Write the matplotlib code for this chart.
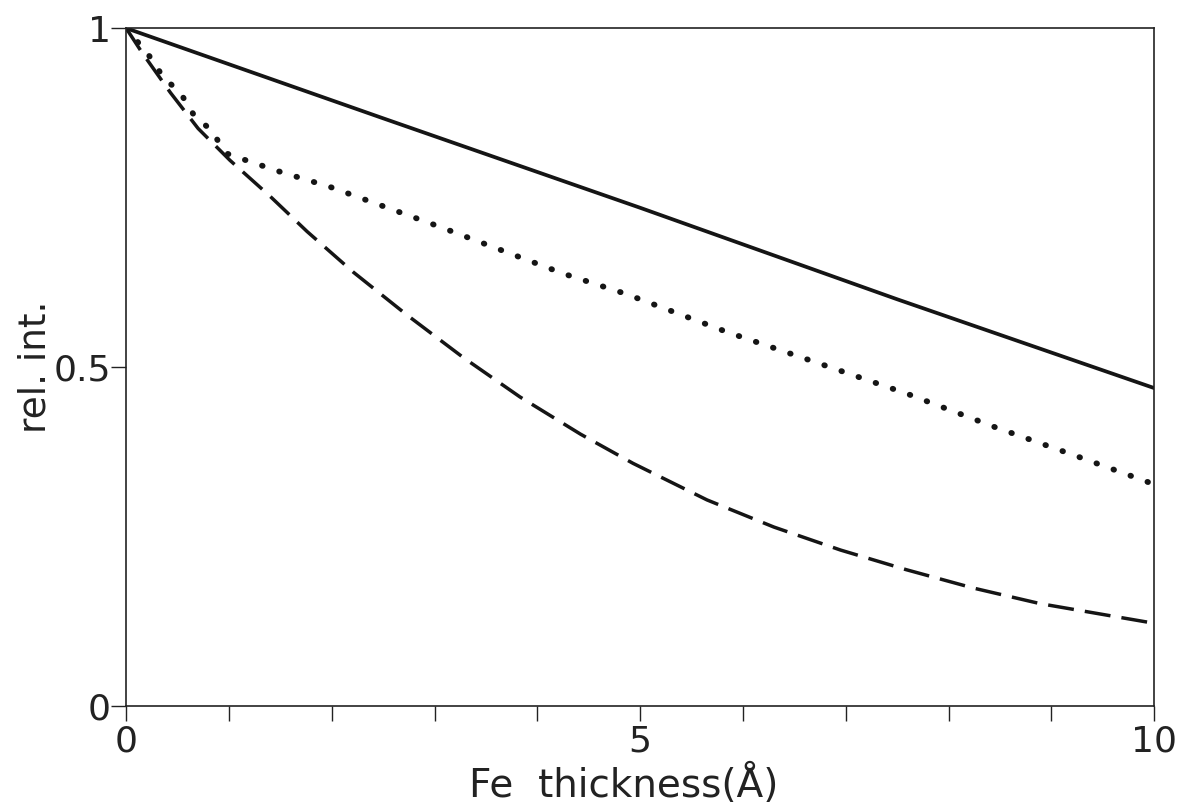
import numpy as np
import matplotlib.pyplot as plt
from matplotlib.ticker import MultipleLocator

# relative intensity vs Fe thickness (Angstrom)
x_solid = [0, 2.5, 5.0, 7.5, 10.0]
y_solid = [1.0, 0.867, 0.735, 0.600, 0.469]

x_dot = [0, 0.10, 0.23, 0.36, 0.53, 0.65, 0.82, 0.98, 1.11, 1.50, 1.98, 2.47,
         3.05, 3.64, 4.25, 4.84, 5.0, 5.84, 6.69, 7.59, 8.44, 9.22, 10.0]
y_dot = [1.0, 0.982, 0.958, 0.928, 0.904, 0.874, 0.850, 0.815, 0.808, 0.788,
         0.766, 0.739, 0.707, 0.673, 0.638, 0.609, 0.600, 0.552, 0.508, 0.461,
         0.412, 0.370, 0.327]

x_dash = [0, 0.15, 0.43, 0.70, 1.01, 1.40, 1.76, 2.21, 2.73, 3.28, 3.83, 4.42,
          4.93, 5.65, 6.30, 6.95, 7.59, 8.24, 8.89, 9.54, 10.0]
y_dash = [1.0, 0.965, 0.905, 0.852, 0.805, 0.752, 0.700, 0.640, 0.577, 0.514,
          0.456, 0.401, 0.358, 0.304, 0.264, 0.230, 0.201, 0.174, 0.151, 0.134,
          0.122]

plt.rcParams['font.family'] = ['DejaVu Sans']

fig = plt.figure(figsize=(11.79, 8.05), dpi=100)
ax = fig.add_axes([0.107, 0.123, 0.872, 0.842])

ink = '#151515'
ax.plot(x_solid, y_solid, color=ink, lw=2.7, solid_capstyle='round')
ax.plot(x_dot, y_dot, color=ink, lw=4.2, linestyle=(0, (0.1, 3.0)),
        dash_capstyle='round')
ax.plot(x_dash, y_dash, color=ink, lw=2.5, linestyle=(0, (7.5, 3.2)))

ax.set_xlim(0, 10)
ax.set_ylim(0, 1)

ax.set_xticks([0, 5, 10])
ax.set_xticklabels(['0', '5', '10'])
ax.xaxis.set_minor_locator(MultipleLocator(1))
ax.set_yticks([0, 0.5, 1])
ax.set_yticklabels(['0', '0.5', '1'])

ax.tick_params(axis='both', which='both', direction='out', length=11,
               width=1.0, labelsize=26, color='#222222', labelcolor='#222222')
ax.tick_params(axis='x', pad=2)
ax.tick_params(axis='y', pad=0)
ax.tick_params(top=False, right=False)

for s in ax.spines.values():
    s.set_linewidth(1.2)
    s.set_color('#222222')

ax.set_xlabel('Fe  thickness(Å)', fontsize=28, color='#222222')
ax.set_ylabel('rel. int.', fontsize=27, color='#222222', va='center')
ax.xaxis.set_label_coords(0.484, -0.085)
ax.yaxis.set_label_coords(-0.088, 0.5)

fig.savefig('out.png', dpi=100, facecolor='white')
